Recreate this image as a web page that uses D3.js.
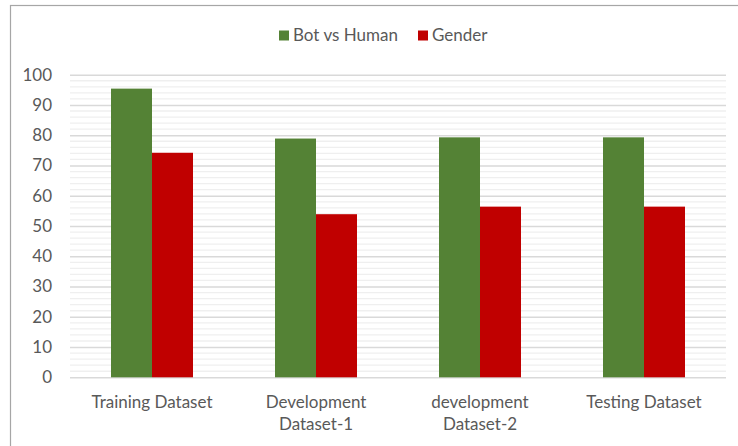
<!DOCTYPE html>
<html lang="en">
<head>
    <meta charset="UTF-8">
    <title>Bot vs Human / Gender</title>
    <script src="https://d3js.org/d3.v7.min.js"></script>
    <style>
        body, html {
            margin: 0;
            padding: 0;
            width: 738px;
            height: 446px;
            overflow: hidden;
            background: #fff;
        }
        text {
            font-family: Lato, "Open Sans", sans-serif;
            fill: #595959;
        }
    </style>
</head>
<body>
    <svg id="chart" width="738" height="446"></svg>

    <script>
        // data
        const categories = [
            ["Training Dataset"],
            ["Development", "Dataset-1"],
            ["development", "Dataset-2"],
            ["Testing Dataset"]
        ];
        const seriesNames = ["Bot vs Human", "Gender"];
        const botVsHuman = [95.4, 78.9, 79.3, 79.3];
        const gender = [74.2, 53.9, 56.4, 56.4];
        const yTicks = [0, 10, 20, 30, 40, 50, 60, 70, 80, 90, 100];
        const colors = ["#548235", "#c00000"];
        const fontSize = 17;

        const svg = d3.select("#chart");

        // outer frame (runs off the right and bottom of the picture)
        svg.append("rect")
            .attr("x", 10.5).attr("y", 5.5)
            .attr("width", 740).attr("height", 450)
            .attr("fill", "none")
            .attr("stroke", "#a6a6a6")
            .attr("stroke-width", 1.2);

        const plot = { left: 70, right: 726, top: 74.7, bottom: 377.3 };

        const x = d3.scaleBand()
            .domain(d3.range(categories.length))
            .range([plot.left, plot.right])
            .paddingInner(0.5)
            .paddingOuter(0.25);

        const xInner = d3.scaleBand()
            .domain(d3.range(seriesNames.length))
            .range([0, x.bandwidth()]);

        const y = d3.scaleLinear().domain([0, 100]).range([plot.bottom, plot.top]);

        // minor gridlines every 2
        svg.append("g")
            .selectAll("line")
            .data(d3.range(0, 101, 2).filter(v => v % 10 !== 0))
            .join("line")
            .attr("x1", plot.left).attr("x2", plot.right)
            .attr("y1", d => y(d)).attr("y2", d => y(d))
            .attr("stroke", "#efefef")
            .attr("stroke-width", 1.3);

        // major gridlines + y labels
        const yAxis = d3.axisLeft(y)
            .tickValues(yTicks)
            .tickSize(-(plot.right - plot.left))
            .tickPadding(18);

        const gy = svg.append("g")
            .attr("transform", `translate(${plot.left},0)`)
            .call(yAxis);
        gy.select(".domain").remove();
        gy.selectAll(".tick line")
            .attr("stroke", "#d9d9d9")
            .attr("stroke-width", 1.5);
        gy.selectAll(".tick text")
            .attr("font-size", fontSize)
            .attr("fill", "#595959")
            .style("font-family", "Lato, 'Open Sans', sans-serif");

        // bars
        const series = [botVsHuman, gender];
        series.forEach((vals, s) => {
            svg.append("g")
                .selectAll("rect")
                .data(vals)
                .join("rect")
                .attr("x", (d, i) => x(i) + xInner(s))
                .attr("y", d => y(d))
                .attr("width", xInner.bandwidth())
                .attr("height", d => y(0) - y(d))
                .attr("fill", colors[s]);
        });

        // category labels
        const gx = svg.append("g");
        categories.forEach((lines, i) => {
            const t = gx.append("text")
                .attr("x", x(i) + x.bandwidth() / 2)
                .attr("y", 408)
                .attr("text-anchor", "middle")
                .attr("font-size", fontSize);
            lines.forEach((ln, k) => {
                t.append("tspan")
                    .attr("x", x(i) + x.bandwidth() / 2)
                    .attr("dy", k === 0 ? 0 : 22)
                    .text(ln);
            });
        });

        // legend
        const legendPos = [279, 418];
        const legend = svg.append("g");
        seriesNames.forEach((name, s) => {
            legend.append("rect")
                .attr("x", legendPos[s]).attr("y", 30.5)
                .attr("width", 10).attr("height", 10)
                .attr("fill", colors[s]);
            legend.append("text")
                .attr("x", legendPos[s] + 14)
                .attr("y", 41)
                .attr("font-size", fontSize)
                .text(name);
        });
    </script>
</body>
</html>
